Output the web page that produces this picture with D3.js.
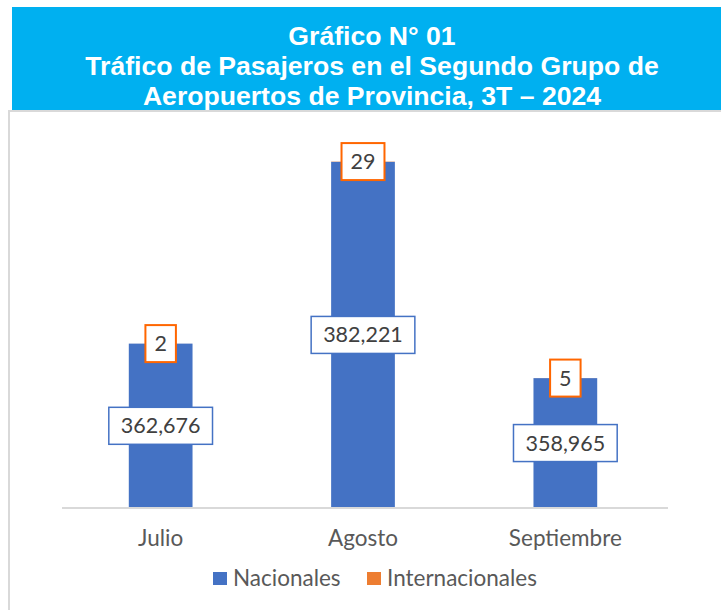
<!DOCTYPE html>
<html>
<head>
<meta charset="utf-8">
<script src="https://cdn.jsdelivr.net/npm/d3@7"></script>
<style>
body { margin: 0; background: #fff; }
svg { display: block; }
</style>
</head>
<body>
<div id="chart"></div>
<script>
var months = ["Julio", "Agosto", "Septiembre"];
var nacionales = [362676, 382221, 358965];
var internacionales = [2, 29, 5];
var seriesNames = ["Nacionales", "Internacionales"];
var titleLines = ["Gráfico N° 01", "Tráfico de Pasajeros en el Segundo Grupo de", "Aeropuertos de Provincia, 3T – 2024"];

var w = 721, h = 610;
var blue = "#4472C4", orange = "#ED7D31", boxOrange = "#FF6600";

var svg = d3.select("#chart").append("svg").attr("width", w).attr("height", h);

// title banner + chart frame
svg.append("rect").attr("x", 9).attr("y", 111).attr("width", 720).attr("height", 510)
    .attr("fill", "#fff").attr("stroke", "#D9D9D9").attr("stroke-width", 2);
svg.append("rect").attr("x", 12).attr("y", 7).attr("width", 712).attr("height", 103).attr("fill", "#00B0F0");
svg.selectAll(".title").data(titleLines).enter().append("text")
    .attr("x", 372).attr("y", function(d, i) { return 45 + i * 30; })
    .attr("text-anchor", "middle")
    .style("font-family", "'Liberation Sans', Arial, sans-serif")
    .style("font-weight", "bold").style("font-size", "26.6px").attr("fill", "#fff")
    .text(function(d) { return d; });

var data = months.map(function(m, i) {
    return {month: m, Nacionales: nacionales[i], Internacionales: internacionales[i]};
});
var stacked = d3.stack().keys(seriesNames)(data);

var x = d3.scaleBand().domain(months).range([60, 666]).paddingInner(0.685).paddingOuter(0.34);
var y = d3.scaleLinear().domain([345000, 385000]).range([508, 136]);

// bars (axis doesn't start at zero)
var colors = {Nacionales: blue, Internacionales: orange};
svg.selectAll(".series").data(stacked).enter().append("g")
    .attr("fill", function(d) { return colors[d.key]; })
    .selectAll("rect").data(function(d) { return d; }).enter().append("rect")
    .attr("x", function(d) { return x(d.data.month); })
    .attr("width", x.bandwidth())
    .attr("y", function(d) { return y(d[1]); })
    .attr("height", function(d) { return Math.max(0, y(Math.max(d[0], 345000)) - y(d[1])); });

// x axis
var axis = svg.append("g").attr("transform", "translate(0,508)")
    .call(d3.axisBottom(x).tickSize(0).tickPadding(22));
axis.select(".domain").attr("stroke", "#D9D9D9").attr("stroke-width", 2).attr("d", "M62,0H668");
axis.selectAll("text").attr("fill", "#595959")
    .style("font-family", "Lato, sans-serif").style("font-size", "22.5px");

// value labels in boxes
var font = "Lato, sans-serif";
function label(cx, cy, txt, stroke, sw, padX) {
    var g = svg.append("g");
    var r = g.append("rect").attr("fill", "#fff").attr("stroke", stroke).attr("stroke-width", sw);
    var t = g.append("text").attr("x", cx).attr("y", cy).attr("dy", "0.35em")
        .attr("text-anchor", "middle").attr("fill", "#404040")
        .style("font-family", font).style("font-size", "21.5px").text(txt);
    var tw = t.node().getComputedTextLength();
    r.attr("x", cx - tw / 2 - padX).attr("y", cy - 18.5).attr("width", tw + padX * 2).attr("height", 37);
}
var fmt = d3.format(",");
stacked[0].forEach(function(d) {
    var cx = x(d.data.month) + x.bandwidth() / 2;
    label(cx, (y(d[1]) + y(345000)) / 2, fmt(d[1] - d[0]), blue, 1.5, 12);
});
stacked[1].forEach(function(d) {
    var cx = x(d.data.month) + x.bandwidth() / 2;
    label(cx, y(d[1]), fmt(d[1] - d[0]), boxOrange, 2, 9);
});

// legend
var legendX = [213, 367];
var leg = svg.selectAll(".legend").data(seriesNames).enter().append("g")
    .attr("transform", function(d, i) { return "translate(" + legendX[i] + ",572)"; });
leg.append("rect").attr("width", 14).attr("height", 13).attr("fill", function(d) { return colors[d]; });
leg.append("text").attr("x", 20).attr("y", 6.5).attr("dy", "0.35em").attr("fill", "#595959")
    .style("font-family", font).style("font-size", "22.5px").text(function(d) { return d; });
</script>
</body>
</html>
